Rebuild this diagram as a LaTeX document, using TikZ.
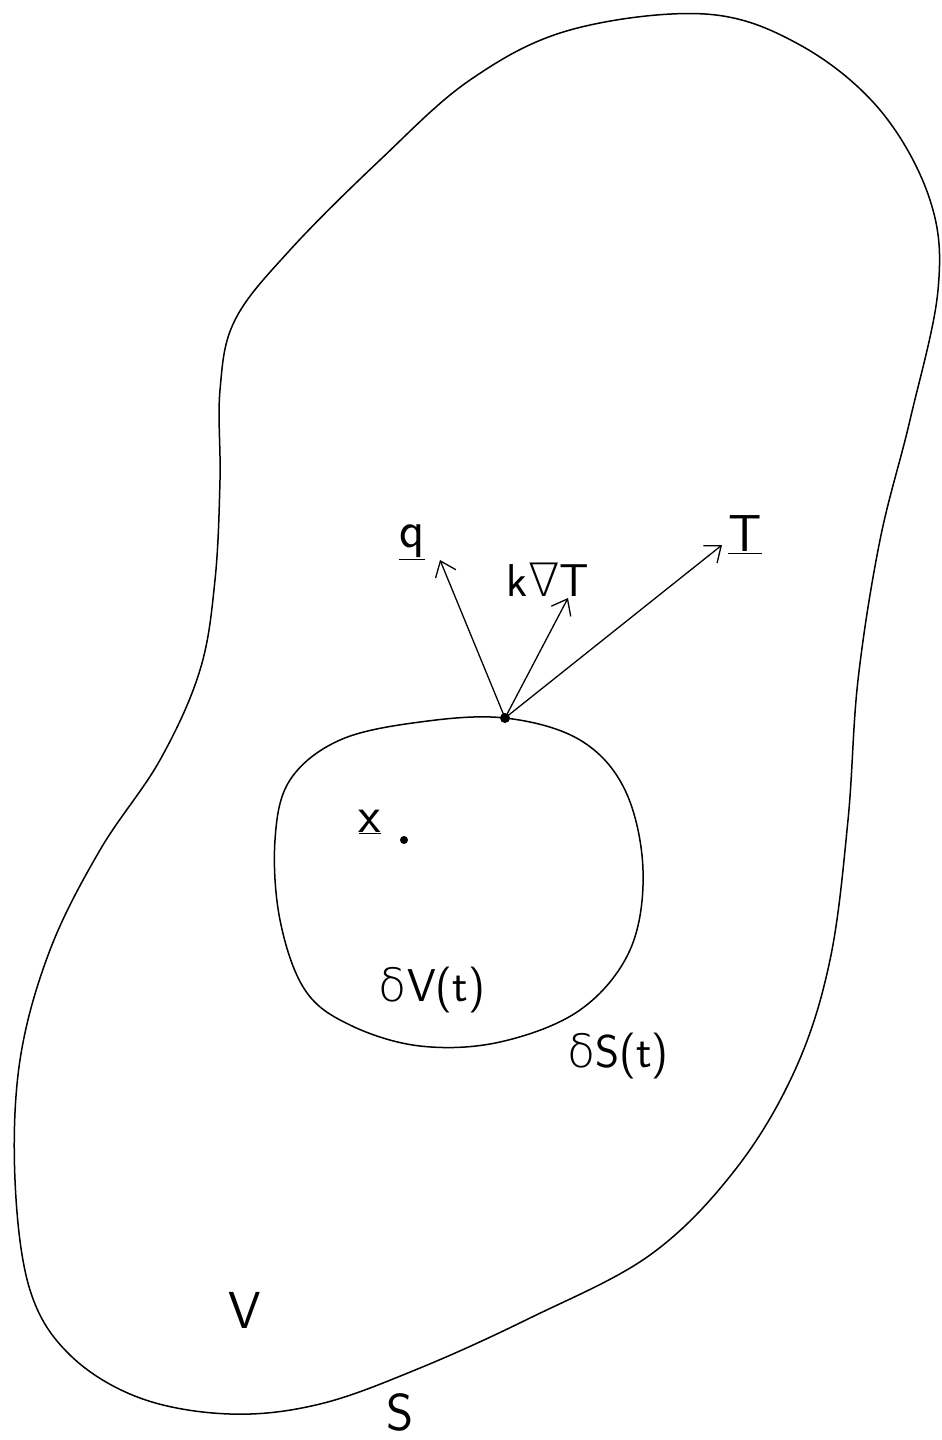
\documentclass[tikz,border=0pt]{standalone}
\usepackage{fontspec}
\newfontfamily\symfont{DejaVu Sans ExtraLight}
\usetikzlibrary{arrows.meta}
\begin{document}
\begin{tikzpicture}[x=1pt,y=-1pt,
  curve/.style={line width=1.5pt, line join=round},
  vec/.style={line width=1.3pt, -{Straight Barb[length=14pt,width=22pt,line width=1.3pt]}},
  lab/.style={font=\fontsize{52}{58}\selectfont\sffamily, inner sep=0pt},
  slab/.style={font=\fontsize{46}{52}\selectfont\sffamily, inner sep=0pt}]
\useasboundingbox (0,0) rectangle (942,1440);
% outer region V
\draw[curve] plot[smooth cycle, tension=0.6] coordinates {
 (705,14) (800,45) (880,110) (930,200) (938,290) (910,420) (880,540)
 (858,680) (848,820) (830,960) (795,1070) (735,1170) (650,1255)
 (530,1318) (420,1368) (320,1404) (230,1414) (140,1398) (70,1355)
 (30,1290) (15,1180) (20,1060) (50,950) (100,850) (160,760) (200,670)
 (215,580) (220,480) (220,390) (235,320) (290,250) (380,160) (470,80) (570,30)};
% inner region
\draw[curve] plot[smooth cycle, tension=0.6] coordinates {
 (505,718) (580,740) (625,790) (643,870) (630,950) (580,1010) (500,1042)
 (420,1046) (350,1025) (305,990) (280,920) (275,840) (290,780) (340,740) (420,722)};
\coordinate (P) at (505,718);
\fill (P) circle (5pt);
\coordinate (qend) at (440,560);
\coordinate (kend) at (568,598);
\coordinate (Tend) at (722,545);
\draw[vec] (P) -- (qend);
\draw[vec] (P) -- (kend);
\draw[vec] (P) -- (Tend);
\node[lab] (q) at (412,542) {\underline{q}};
\node[slab] (k) at (548,580) {k{\symfont∇}T};
\node[lab] (T) at (745,535) {\underline{T}};
\node[lab] (x) at (370,822) {\underline{x}};
\fill (404,840) circle (4pt);
\node[slab] (dV) at (432,990) {{\symfont δ}V(t)};
\node[slab] (dS) at (618,1056) {{\symfont δ}S(t)};
\node[lab] (V) at (245,1310) {V};
\node[lab] (S) at (400,1412) {S};
\end{tikzpicture}
\end{document}
